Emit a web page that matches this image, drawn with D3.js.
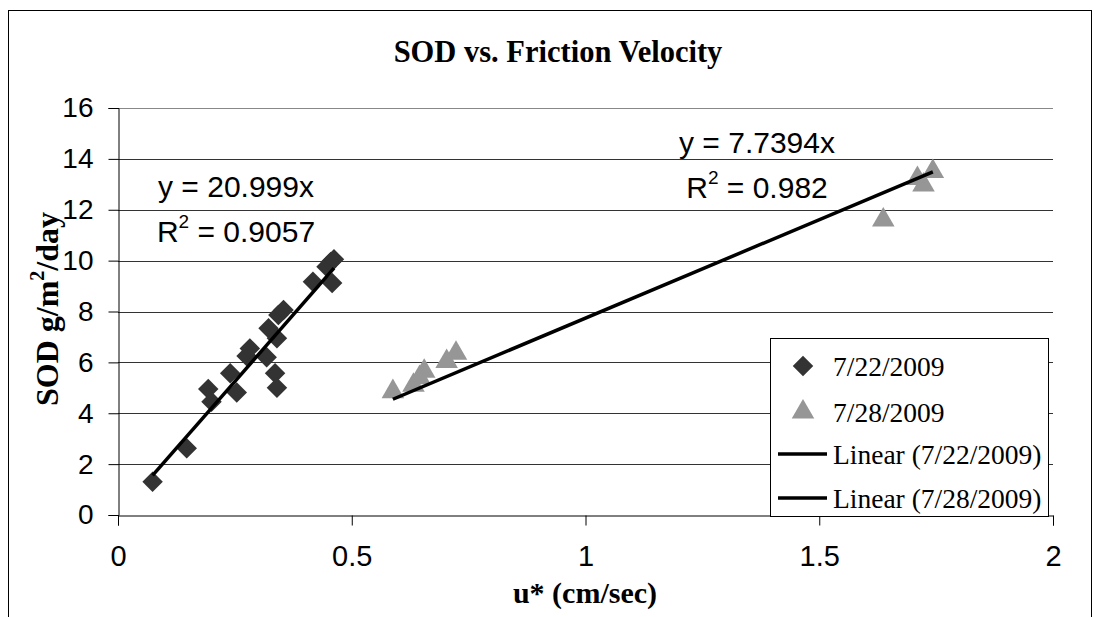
<!DOCTYPE html>
<meta charset="utf-8">
<body style="margin:0;background:#fff">
<script src="https://d3js.org/d3.v7.min.js"></script>
<script>

  // data
  let dayOne = [
    [0.074, 1.31], [0.147, 2.62], [0.193, 4.95], [0.200, 4.45], [0.240, 5.57],
    [0.254, 4.82], [0.275, 6.25], [0.282, 6.55], [0.318, 6.20], [0.322, 7.34],
    [0.336, 5.57], [0.340, 5.00], [0.340, 6.95], [0.343, 7.86], [0.354, 8.06],
    [0.417, 9.17], [0.446, 9.76], [0.455, 9.95], [0.462, 10.05], [0.458, 9.12]
  ];
  let dayTwo = [
    [0.588, 4.85], [0.632, 5.10], [0.645, 5.40], [0.655, 5.65], [0.703, 6.03],
    [0.723, 6.36], [1.637, 11.60], [1.710, 13.23], [1.723, 12.97], [1.743, 13.50]
  ];
  let slopes = [20.999, 7.7394];
  let r2s = ["0.9057", "0.982"];
  let seriesNames = ["7/22/2009", "7/28/2009"];
  let xTicks = [0, 0.5, 1, 1.5, 2];
  let yTicks = [0, 2, 4, 6, 8, 10, 12, 14, 16];

  let width = 1101,
    height = 617;
  let plotL = 118, plotR = 1053, plotT = 108, plotB = 515;

  let sans = "'Liberation Sans', Arial, sans-serif",
    serif = "'Liberation Serif', 'Times New Roman', serif";

  let x = d3.scaleLinear().domain([0, 2]).range([plotL, plotR]);
  let y = d3.scaleLinear().domain([0, 16]).range([plotB, plotT]);

  let svg = d3.select("body").append("svg")
    .attr("width", width)
    .attr("height", height)
    .style("display", "block");

  // outer chart border
  svg.append("rect")
    .attr("x", 8.5).attr("y", 10.5)
    .attr("width", 1083).attr("height", 640)
    .attr("fill", "none").attr("stroke", "#000");

  // gridlines
  svg.append("g").selectAll("line")
    .data(yTicks.slice(1))
    .enter().append("line")
    .attr("x1", plotL).attr("x2", plotR)
    .attr("y1", d => Math.round(y(d)) + 0.5)
    .attr("y2", d => Math.round(y(d)) + 0.5)
    .attr("stroke", d => d === 16 ? "#888" : "#333");

  // axes
  let yAxis = svg.append("g")
    .attr("transform", "translate(" + (plotL + 0.5) + ",0)")
    .call(d3.axisLeft(y).tickValues(yTicks).tickSize(10).tickPadding(15).tickFormat(d3.format("d")));
  yAxis.select(".domain").attr("stroke", "#000");
  yAxis.selectAll("text").attr("font-family", sans).attr("font-size", 28).attr("fill", "#000");

  let xAxis = svg.append("g")
    .attr("transform", "translate(0," + (plotB + 0.5) + ")")
    .call(d3.axisBottom(x).tickValues(xTicks).tickSize(10).tickPadding(20).tickFormat(d => String(d)));
  xAxis.select(".domain").attr("stroke", "#000");
  xAxis.selectAll("text").attr("font-family", sans).attr("font-size", 29).attr("fill", "#000");

  // trendlines through the origin
  let lines = [
    {slope: slopes[0], x0: d3.min(dayOne, d => d[0]), x1: d3.max(dayOne, d => d[0])},
    {slope: slopes[1], x0: d3.min(dayTwo, d => d[0]), x1: d3.max(dayTwo, d => d[0])}
  ];

  // markers
  let diamond = d3.symbol().type(d3.symbolSquare).size(210);
  svg.append("g").selectAll("path")
    .data(dayOne)
    .enter().append("path")
    .attr("d", diamond)
    .attr("transform", d => "translate(" + x(d[0]) + "," + y(d[1]) + ") rotate(45)")
    .attr("fill", "#333333");

  let tri = d3.symbol().type(d3.symbolTriangle).size(220);
  svg.append("g").selectAll("path")
    .data(dayTwo)
    .enter().append("path")
    .attr("d", tri)
    .attr("transform", d => "translate(" + x(d[0]) + "," + y(d[1]) + ")")
    .attr("fill", "#969696");

  svg.append("g").selectAll("line")
    .data(lines)
    .enter().append("line")
    .attr("x1", d => x(d.x0)).attr("y1", d => y(d.x0 * d.slope))
    .attr("x2", d => x(d.x1)).attr("y2", d => y(d.x1 * d.slope))
    .attr("stroke", "#000").attr("stroke-width", 3.5);

  // equation labels
  let eqPos = [[236, 197, 242], [757, 153, 198]];
  eqPos.forEach(function(p, i) {
    svg.append("text")
      .attr("x", p[0]).attr("y", p[1])
      .attr("text-anchor", "middle")
      .attr("font-family", sans).attr("font-size", 30)
      .text("y = " + slopes[i] + "x");
    let t = svg.append("text")
      .attr("x", p[0]).attr("y", p[2])
      .attr("text-anchor", "middle")
      .attr("font-family", sans).attr("font-size", 30);
    t.append("tspan").text("R");
    t.append("tspan").attr("dy", -14).attr("font-size", 19).text("2");
    t.append("tspan").attr("dy", 14).text(" = " + r2s[i]);
  });

  // title and axis titles
  svg.append("text")
    .attr("x", 558).attr("y", 62)
    .attr("text-anchor", "middle")
    .attr("font-family", serif).attr("font-size", 30.5).attr("font-weight", "bold")
    .text("SOD vs. Friction Velocity");

  svg.append("text")
    .attr("x", 585).attr("y", 603)
    .attr("text-anchor", "middle")
    .attr("font-family", serif).attr("font-size", 30).attr("font-weight", "bold")
    .text("u* (cm/sec)");

  let yt = svg.append("text")
    .attr("transform", "translate(58,309) rotate(-90)")
    .attr("text-anchor", "middle")
    .attr("font-family", serif).attr("font-size", 32).attr("font-weight", "bold");
  yt.append("tspan").text("SOD g/m");
  yt.append("tspan").attr("dy", -14).attr("font-size", 20).text("2");
  yt.append("tspan").attr("dy", 14).text("/day");

  // legend
  let lg = svg.append("g").attr("transform", "translate(770,338)");
  lg.append("rect")
    .attr("x", 0.5).attr("y", 0.5)
    .attr("width", 278).attr("height", 178)
    .attr("fill", "#fff").attr("stroke", "#000");

  let legendItems = [
    {kind: "diamond", label: seriesNames[0]},
    {kind: "triangle", label: seriesNames[1]},
    {kind: "line", label: "Linear (" + seriesNames[0] + ")"},
    {kind: "line", label: "Linear (" + seriesNames[1] + ")"}
  ];
  let rowY = [28, 74, 116, 160];

  legendItems.forEach(function(d, i) {
    let cy = rowY[i];
    if (d.kind === "diamond") {
      lg.append("path").attr("d", diamond)
        .attr("transform", "translate(33," + cy + ") rotate(45)")
        .attr("fill", "#333333");
    } else if (d.kind === "triangle") {
      lg.append("path").attr("d", tri)
        .attr("transform", "translate(33," + cy + ")")
        .attr("fill", "#969696");
    } else {
      lg.append("line")
        .attr("x1", 8).attr("x2", 57)
        .attr("y1", cy).attr("y2", cy)
        .attr("stroke", "#000").attr("stroke-width", 3.5);
    }
    lg.append("text")
      .attr("x", 63).attr("y", cy + 10)
      .attr("font-family", serif).attr("font-size", 27.5)
      .text(d.label);
  });

</script>
